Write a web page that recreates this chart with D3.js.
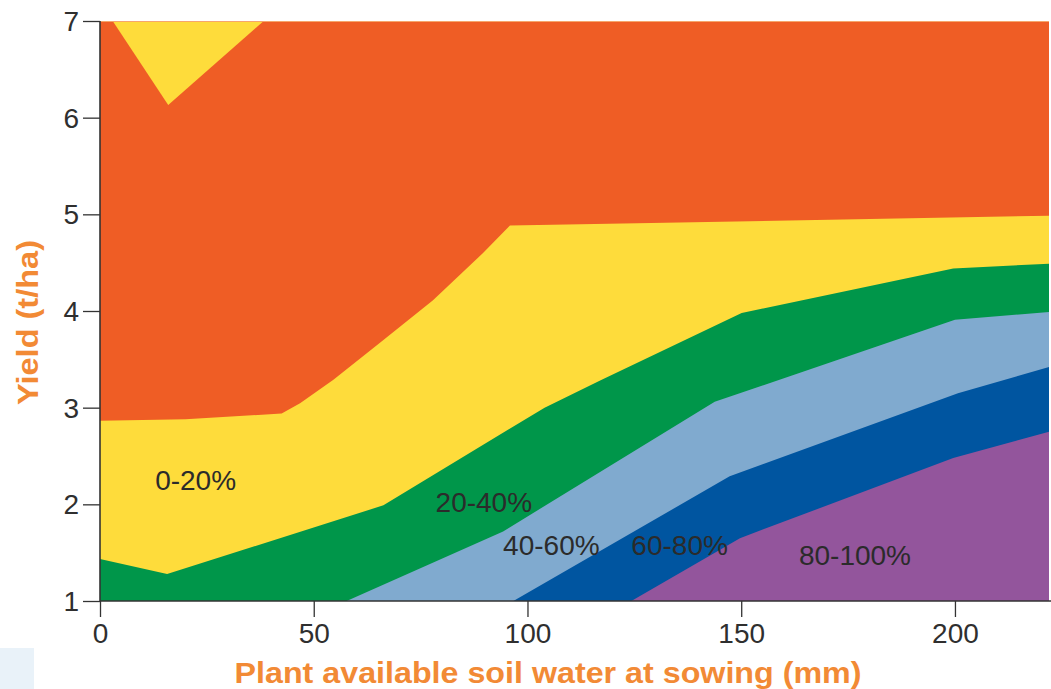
<!DOCTYPE html>
<html>
<head>
<meta charset="utf-8">
<script src="https://cdn.jsdelivr.net/npm/d3@7"></script>
<style>
html,body{margin:0;padding:0;background:#fff;}
svg{display:block;}
</style>
</head>
<body>
<svg id="chart" width="1051" height="689"></svg>
<script>
// ---- data ----
const xTicks = [0, 50, 100, 150, 200];
const yTicks = [1, 2, 3, 4, 5, 6, 7];
const xDomain = [0, 222];
const yDomain = [1, 7];

// upper boundaries of each probability band, [soil water mm, yield t/ha]
const band0to20Top = [[0,2.865],[20,2.88],[42.5,2.94],[46.8,3.045],[54.6,3.29],[66.3,3.70],[77.9,4.11],[89.6,4.60],[95.9,4.885],[222,4.985]];
const band20to40Top = [[0,1.434],[15.7,1.279],[66.3,1.99],[104,3.0],[117,3.28],[150.1,3.98],[199.6,4.44],[222,4.49]];
const band40to60Top = [[0,1],[57.7,1],[94.3,1.72],[143.8,3.06],[200,3.91],[222,3.99]];
const band60to80Top = [[0,1],[96.7,1],[147.3,2.29],[200.7,3.15],[222,3.42]];
const band80to100Top = [[0,1],[124.3,1],[149.7,1.65],[199.6,2.48],[222,2.75]];
// small 0-20% wedge hanging from the top
const topWedge = [[2.97,7],[15.96,6.13],[38.3,7]];

const bandLabels = ["0-20%","20-40%","40-60%","60-80%","80-100%"];
const labelPos = [[12.9,2.15],[78.5,1.925],[94.3,1.476],[124.3,1.476],[163.5,1.372]];

const colors = {
  orange: "#EF5D25", yellow: "#FEDC3B", green: "#00964A",
  light: "#80AACF", dark: "#0055A0", purple: "#93559C",
  title: "#F28A35"
};

// ---- drawing ----
const svg = d3.select("#chart");
const x = d3.scaleLinear().domain(xDomain).range([100, 1049]);
const y = d3.scaleLinear().domain(yDomain).range([601, 21]);
const fontFam = "'Liberation Sans', Arial, sans-serif";

// faint decorative block bottom-left
svg.append("rect").attr("x",0).attr("y",648).attr("width",34).attr("height",41).attr("fill","#e9f2f9");

// background band (above the 0-20% boundary)
svg.append("rect")
  .attr("x", x(xDomain[0])).attr("y", y(yDomain[1]))
  .attr("width", x(xDomain[1]) - x(xDomain[0]))
  .attr("height", y(yDomain[0]) - y(yDomain[1]))
  .attr("fill", colors.orange);

const areaBelow = d3.area().x(d => x(d[0])).y0(y(yDomain[0])).y1(d => y(d[1]));
const areaAbove = d3.area().x(d => x(d[0])).y0(y(yDomain[1])).y1(d => y(d[1]));

const bands = [
  [band0to20Top, colors.yellow],
  [band20to40Top, colors.green],
  [band40to60Top, colors.light],
  [band60to80Top, colors.dark],
  [band80to100Top, colors.purple]
];
bands.forEach(([pts, c]) => {
  svg.append("path").datum(pts).attr("d", areaBelow).attr("fill", c);
});
svg.append("path").datum(topWedge).attr("d", areaAbove).attr("fill", colors.yellow);

// thin light line along top edge
svg.append("line").attr("x1", x(xDomain[0])).attr("x2", x(xDomain[1]))
  .attr("y1", y(yDomain[1])+0.5).attr("y2", y(yDomain[1])+0.5)
  .attr("stroke", "#F6A66C").attr("stroke-width", 1.2);

// band labels
svg.selectAll("text.band").data(bandLabels).enter().append("text")
  .attr("class","band")
  .attr("x", (d,i) => x(labelPos[i][0]))
  .attr("y", (d,i) => y(labelPos[i][1]))
  .attr("font-family", fontFam)
  .attr("font-size", 28)
  .attr("fill", "#2b2b2b")
  .text(d => d);

// axes
const yAxis = svg.append("g").attr("transform", `translate(${x(0)},0)`)
  .call(d3.axisLeft(y).tickValues(yTicks).tickSize(17).tickPadding(4).tickFormat(d3.format("d")));
const xAxis = svg.append("g").attr("transform", `translate(0,${y(1)})`)
  .call(d3.axisBottom(x).tickValues(xTicks).tickSize(16).tickPadding(6).tickFormat(d3.format("d")));
[yAxis, xAxis].forEach(g => {
  g.select(".domain").attr("stroke", "#333").attr("stroke-width", 1.6);
  g.selectAll(".tick line").attr("stroke", "#333").attr("stroke-width", 1.3);
  g.selectAll(".tick text").attr("font-family", fontFam).attr("font-size", 28).attr("fill", "#2f2f2f");
});
yAxis.select(".domain").attr("d", `M0,${y(7)}V${y(1)}`);
xAxis.select(".domain").attr("d", `M${x(0)},0H${x(222)+2}`);
yAxis.selectAll(".tick text").attr("dy", "0.34em");

// axis titles
svg.append("text")
  .attr("transform", `translate(38,322.5) rotate(-90)`)
  .attr("text-anchor", "middle")
  .attr("font-family", fontFam).attr("font-weight", "bold").attr("font-size", 30)
  .attr("textLength", 165).attr("lengthAdjust", "spacingAndGlyphs")
  .attr("fill", colors.title)
  .text("Yield (t/ha)");
svg.append("text")
  .attr("x", 548).attr("y", 683)
  .attr("text-anchor", "middle")
  .attr("font-family", fontFam).attr("font-weight", "bold").attr("font-size", 30)
  .attr("textLength", 627).attr("lengthAdjust", "spacingAndGlyphs")
  .attr("fill", colors.title)
  .text("Plant available soil water at sowing (mm)");
</script>
</body>
</html>
